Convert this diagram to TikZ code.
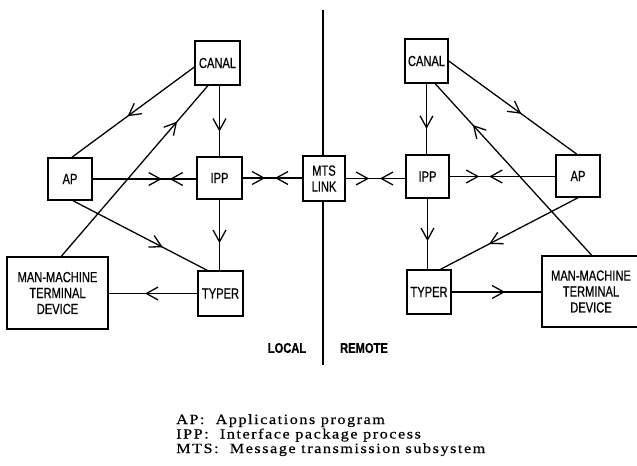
\documentclass[tikz,border=0pt]{standalone}
\usepackage{fontspec}
\setmainfont{Liberation Serif}
\newfontfamily\boxfont{Liberation Sans}[FakeStretch=0.76,FakeBold=0.6]
\newfontfamily\lblfont{Liberation Sans}[FakeStretch=0.8,FakeBold=0.8]
\newfontfamily\legfont{Liberation Serif}[FakeStretch=1.15,LetterSpace=11,FakeBold=0.5]
\usetikzlibrary{arrows.meta,decorations.markings}
\tikzset{
  sb/.tip={Straight Barb[length=10pt,width=11pt]},
  blk/.style={draw, line width=1.3pt, inner sep=0pt, align=center,
    font=\boxfont\fontsize{12.5pt}{13.6pt}\selectfont},
  ln/.style={line width=1.1pt},
  ma/.style={postaction={decorate,decoration={markings,
    mark=at position #1 with {\arrow{sb}}}}},
  cv/.style 2 args={postaction={decorate,decoration={markings,
    mark=at position #1 with {\arrow{sb}},
    mark=at position #2 with {\arrowreversed{sb}}}}},
  side/.style={font=\lblfont\bfseries\fontsize{11.9pt}{13pt}\selectfont, inner sep=0pt},
  leg/.style={font=\legfont\fontsize{12pt}{12pt}\selectfont, inner sep=0pt, anchor=base west}
}
\begin{document}
\begin{tikzpicture}[x=0.03cm,y=-0.03cm]
\useasboundingbox (0,0) rectangle (637,465);

% left side
\node[blk, minimum width=1.35cm, minimum height=1.32cm] (cL) at (217.5,63) {CANAL};
\node[blk, minimum width=1.32cm, minimum height=1.26cm] (apL) at (70,179) {AP};
\node[blk, minimum width=1.35cm, minimum height=1.26cm] (ippL) at (219.5,178) {IPP};
\node[blk, minimum width=1.35cm, minimum height=1.35cm] (typL) at (220.5,293.5) {TYPER};
\node[blk, minimum width=3.03cm, minimum height=2.16cm] (mmL) at (57.5,293) {MAN-MACHINE\\TERMINAL\\DEVICE};
% centre
\node[blk, minimum width=1.26cm, minimum height=1.35cm] (mts) at (324,178.5) {MTS\\LINK};
% right side
\node[blk, minimum width=1.29cm, minimum height=1.32cm] (cR) at (426.5,61) {CANAL};
\node[blk, minimum width=1.29cm, minimum height=1.29cm] (ippR) at (427.5,176.5) {IPP};
\node[blk, minimum width=1.32cm, minimum height=1.26cm] (apR) at (578,176) {AP};
\node[blk, minimum width=1.32cm, minimum height=1.32cm] (typR) at (429,292) {TYPER};
\node[blk, minimum width=2.94cm, minimum height=2.13cm] (mmR) at (591,291.5) {MAN-MACHINE\\TERMINAL\\DEVICE};

% divider
\coordinate (dt) at (323,10);
\coordinate (db) at (323,365);
\draw[line width=2.4pt] (dt) -- (dt |- mts.north);
\draw[line width=2.4pt] (db) -- (db |- mts.south);

% left connectors
\draw[ln, ma=0.545] (cL.190) -- (apL.85);
\draw[ln, ma=0.79] (mmL.84) -- (cL.247);
\draw[ln, ma=0.65] (ippL.north |- cL.south) -- (ippL.north);
\draw[ln, cv={0.667}{0.743}] (apL.east) -- (apL.east -| ippL.west);
\draw[ln, cv={0.377}{0.541}] (ippL.east) -- (ippL.east -| mts.west);
\draw[ln, ma=0.67] (apL.278) -- (typL.120);
\draw[ln, ma=0.615] (ippL.south) -- (ippL.south |- typL.north);
\draw[ln, ma=0.59] (typL.west) -- (typL.west -| mmL.east);

% right connectors
\draw[ln, cv={0.393}{0.574}] (mts.east) -- (mts.east -| ippR.west);
\draw[ln, cv={0.28}{0.374}] (ippR.east) -- (ippR.east -| apR.west);
\draw[ln, ma=0.566] (cR.east) -- (apR.93);
\draw[ln, ma=0.76] (mmR.89) -- (cR.291);
\draw[ln, ma=0.64] (cR.south) -- (cR.south |- ippR.north);
\draw[ln, ma=0.647] (apR.south) -- (typR.63);
\draw[ln, ma=0.6] (ippR.south) -- (ippR.south |- typR.north);
\draw[ln, ma=0.597] (typR.east) -- (typR.east -| mmR.west);

% side labels
\node[side] (loc) at (287,348) {LOCAL};
\node[side] (rem) at (364,348) {REMOTE};

% legend
\node[leg] (leg1) at (176,424) {AP:\ \ Applications program};
\node[leg] (leg2) at (176,438.5) {IPP:\ \ Interface package process};
\node[leg] (leg3) at (176,453) {MTS:\ \ Message transmission subsystem};
\end{tikzpicture}
\end{document}
